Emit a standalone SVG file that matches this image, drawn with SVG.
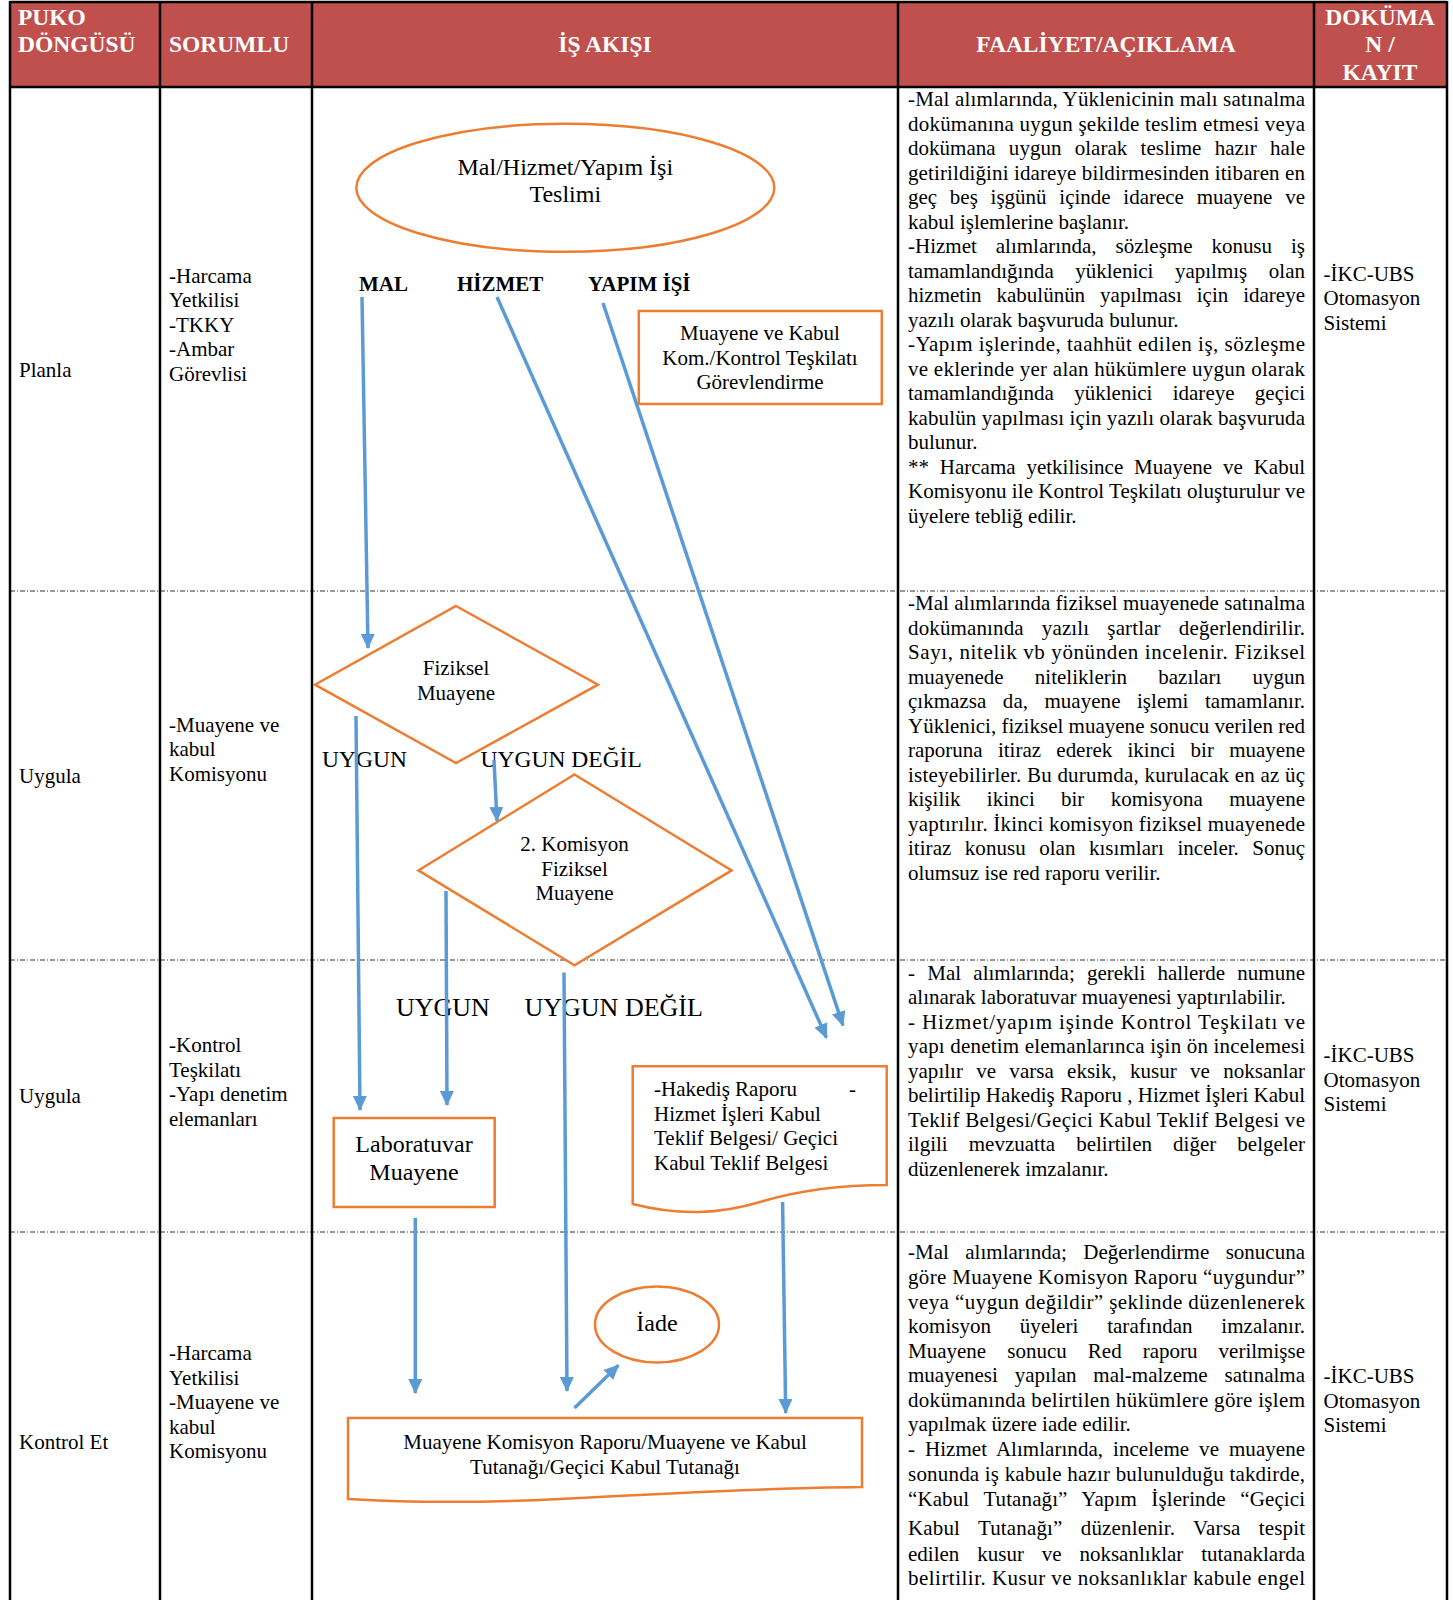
<svg xmlns="http://www.w3.org/2000/svg" width="1453" height="1600" viewBox="0 0 1453 1600">
<defs>
<marker id="arr" viewBox="0 0 15 14" refX="14" refY="7" markerWidth="15" markerHeight="14" orient="auto" markerUnits="userSpaceOnUse">
<path d="M0,0 L15,7 L0,14 Z" fill="#5B9BD5"/>
</marker>
</defs>
<style>
text{font-family:"Liberation Serif","Times New Roman",serif;fill:#000}
.hdr{font-weight:bold;font-size:23.5px;fill:#fff}
.t{font-size:21px}
.b{font-size:24px}
.lb{font-weight:bold;font-size:21px}
.u1{font-size:23.5px}
.u2{font-size:26px}
.mid{text-anchor:middle}
.shape{fill:#fff;stroke:#ED7D31;stroke-width:2.5}
.conn line{stroke:#5B9BD5;stroke-width:3.5;marker-end:url(#arr)}
.grid{stroke:#000;stroke-width:2.5}
.sep{stroke:#333;stroke-width:1;stroke-dasharray:5 2 1 2}
</style>
<rect width="1453" height="1600" fill="#fff"/>
<g id="table">
<rect x="10" y="2" width="1437" height="85" fill="#C0504D"/>
<line class="sep" x1="10" y1="591" x2="1447" y2="591"/>
<line class="sep" x1="10" y1="960" x2="1447" y2="960"/>
<line class="sep" x1="10" y1="1232" x2="1447" y2="1232"/>
<line class="grid" x1="10" y1="2" x2="1447" y2="2"/>
<line class="grid" x1="10" y1="87" x2="1447" y2="87"/>
<line class="grid" x1="10" y1="1" x2="10" y2="1600"/>
<line class="grid" x1="160" y1="1" x2="160" y2="1600"/>
<line class="grid" x1="312" y1="1" x2="312" y2="1600"/>
<line class="grid" x1="898" y1="1" x2="898" y2="1600"/>
<line class="grid" x1="1314" y1="1" x2="1314" y2="1600"/>
<line class="grid" x1="1447" y1="1" x2="1447" y2="1600"/>
<text class="hdr" x="18" y="24.5">PUKO</text>
<text class="hdr" x="18" y="52">DÖNGÜSÜ</text>
<text class="hdr" x="169" y="52">SORUMLU</text>
<text class="hdr mid" x="605" y="52">İŞ AKIŞI</text>
<text class="hdr mid" x="1106" y="52">FAALİYET/AÇIKLAMA</text>
<text class="hdr mid" x="1380" y="24.5">DOKÜMA</text>
<text class="hdr mid" x="1380" y="52">N /</text>
<text class="hdr mid" x="1380" y="79.6">KAYIT</text>
</g>
<g id="col-puko">
<text class="t" x="19" y="376.5">Planla</text>
<text class="t" x="19" y="782.6">Uygula</text>
<text class="t" x="19" y="1103">Uygula</text>
<text class="t" x="19" y="1449">Kontrol Et</text>
</g>
<g id="col-sorumlu">
<text class="t" x="169" y="282.6">-Harcama</text>
<text class="t" x="169" y="307">Yetkilisi</text>
<text class="t" x="169" y="331.6">-TKKY</text>
<text class="t" x="169" y="356">-Ambar</text>
<text class="t" x="169" y="380.6">Görevlisi</text>
<text class="t" x="169" y="731.6">-Muayene ve</text>
<text class="t" x="169" y="756">kabul</text>
<text class="t" x="169" y="780.6">Komisyonu</text>
<text class="t" x="169" y="1052">-Kontrol</text>
<text class="t" x="169" y="1076.5">Teşkilatı</text>
<text class="t" x="169" y="1101">-Yapı denetim</text>
<text class="t" x="169" y="1125.5">elemanları</text>
<text class="t" x="169" y="1360">-Harcama</text>
<text class="t" x="169" y="1384.5">Yetkilisi</text>
<text class="t" x="169" y="1409">-Muayene ve</text>
<text class="t" x="169" y="1433.5">kabul</text>
<text class="t" x="169" y="1458">Komisyonu</text>
</g>
<g id="col-faaliyet">
<text class="t" x="908" y="106.1" textLength="397" lengthAdjust="spacing">-Mal alımlarında, Yüklenicinin malı satınalma</text>
<text class="t" x="908" y="130.6" textLength="397" lengthAdjust="spacing">dokümanına uygun şekilde teslim etmesi veya</text>
<text class="t" x="908" y="155.1" textLength="397" lengthAdjust="spacing" style="word-spacing:8px">dokümana uygun olarak teslime hazır hale</text>
<text class="t" x="908" y="179.6" textLength="397" lengthAdjust="spacing">getirildiğini idareye bildirmesinden itibaren en</text>
<text class="t" x="908" y="204.1" textLength="397" lengthAdjust="spacing" style="word-spacing:7.5px">geç beş işgünü içinde idarece muayene ve</text>
<text class="t" x="908" y="228.6">kabul işlemlerine başlanır.</text>
<text class="t" x="908" y="253.1" textLength="397" lengthAdjust="spacing" style="word-spacing:13.7px">-Hizmet alımlarında, sözleşme konusu iş</text>
<text class="t" x="908" y="277.6" textLength="397" lengthAdjust="spacing" style="word-spacing:16.3px">tamamlandığında yüklenici yapılmış olan</text>
<text class="t" x="908" y="302.1" textLength="397" lengthAdjust="spacing" style="word-spacing:9.7px">hizmetin kabulünün yapılması için idareye</text>
<text class="t" x="908" y="326.6">yazılı olarak başvuruda bulunur.</text>
<text class="t" x="908" y="351.1" textLength="397" lengthAdjust="spacing">-Yapım işlerinde, taahhüt edilen iş, sözleşme</text>
<text class="t" x="908" y="375.6" textLength="397" lengthAdjust="spacing">ve eklerinde yer alan hükümlere uygun olarak</text>
<text class="t" x="908" y="400.1" textLength="397" lengthAdjust="spacing" style="word-spacing:15px">tamamlandığında yüklenici idareye geçici</text>
<text class="t" x="908" y="424.6" textLength="397" lengthAdjust="spacing">kabulün yapılması için yazılı olarak başvuruda</text>
<text class="t" x="908" y="449.1">bulunur.</text>
<text class="t" x="908" y="473.6" textLength="397" lengthAdjust="spacing" style="word-spacing:5.6px">** Harcama yetkilisince Muayene ve Kabul</text>
<text class="t" x="908" y="498.1" textLength="397" lengthAdjust="spacing">Komisyonu ile Kontrol Teşkilatı oluşturulur ve</text>
<text class="t" x="908" y="522.6">üyelere tebliğ edilir.</text>

<text class="t" x="908" y="610.2" textLength="397" lengthAdjust="spacing">-Mal alımlarında fiziksel muayenede satınalma</text>
<text class="t" x="908" y="634.7" textLength="397" lengthAdjust="spacing" style="word-spacing:12.7px">dokümanında yazılı şartlar değerlendirilir.</text>
<text class="t" x="908" y="659.2" textLength="397" lengthAdjust="spacing">Sayı, nitelik vb yönünden incelenir. Fiziksel</text>
<text class="t" x="908" y="683.7" textLength="397" lengthAdjust="spacing" style="word-spacing:26px">muayenede niteliklerin bazıları uygun</text>
<text class="t" x="908" y="708.2" textLength="397" lengthAdjust="spacing" style="word-spacing:11.2px">çıkmazsa da, muayene işlemi tamamlanır.</text>
<text class="t" x="908" y="732.7" textLength="397" lengthAdjust="spacing">Yüklenici, fiziksel muayene sonucu verilen red</text>
<text class="t" x="908" y="757.2" textLength="397" lengthAdjust="spacing" style="word-spacing:10px">raporuna itiraz ederek ikinci bir muayene</text>
<text class="t" x="908" y="781.7" textLength="397" lengthAdjust="spacing">isteyebilirler. Bu durumda, kurulacak en az üç</text>
<text class="t" x="908" y="806.2" textLength="397" lengthAdjust="spacing" style="word-spacing:21px">kişilik ikinci bir komisyona muayene</text>
<text class="t" x="908" y="830.7" textLength="397" lengthAdjust="spacing">yaptırılır. İkinci komisyon fiziksel muayenede</text>
<text class="t" x="908" y="855.2" textLength="397" lengthAdjust="spacing" style="word-spacing:8.2px">itiraz konusu olan kısımları inceler. Sonuç</text>
<text class="t" x="908" y="879.7">olumsuz ise red raporu verilir.</text>

<text class="t" x="908" y="979.6" textLength="397" lengthAdjust="spacing" style="word-spacing:7px">- Mal alımlarında; gerekli hallerde numune</text>
<text class="t" x="908" y="1004.1">alınarak laboratuvar muayenesi yaptırılabilir.</text>
<text class="t" x="908" y="1028.6" textLength="397" lengthAdjust="spacing">- Hizmet/yapım işinde Kontrol Teşkilatı ve</text>
<text class="t" x="908" y="1053.1" textLength="397" lengthAdjust="spacing">yapı denetim elemanlarınca işin ön incelemesi</text>
<text class="t" x="908" y="1077.6" textLength="397" lengthAdjust="spacing" style="word-spacing:8px">yapılır ve varsa eksik, kusur ve noksanlar</text>
<text class="t" x="908" y="1102.1" textLength="397" lengthAdjust="spacing">belirtilip Hakediş Raporu , Hizmet İşleri Kabul</text>
<text class="t" x="908" y="1126.6" textLength="397" lengthAdjust="spacing">Teklif Belgesi/Geçici Kabul Teklif Belgesi ve</text>
<text class="t" x="908" y="1151.1" textLength="397" lengthAdjust="spacing" style="word-spacing:15.8px">ilgili mevzuatta belirtilen diğer belgeler</text>
<text class="t" x="908" y="1175.6">düzenlenerek imzalanır.</text>

<text class="t" x="908" y="1259.3" textLength="397" lengthAdjust="spacing" style="word-spacing:11.2px">-Mal alımlarında; Değerlendirme sonucuna</text>
<text class="t" x="908" y="1284.2" textLength="397" lengthAdjust="spacing">göre Muayene Komisyon Raporu “uygundur”</text>
<text class="t" x="908" y="1308.7" textLength="397" lengthAdjust="spacing">veya “uygun değildir” şeklinde düzenlenerek</text>
<text class="t" x="908" y="1333.2" textLength="397" lengthAdjust="spacing" style="word-spacing:23.5px">komisyon üyeleri tarafından imzalanır.</text>
<text class="t" x="908" y="1357.7" textLength="397" lengthAdjust="spacing" style="word-spacing:15.8px">Muayene sonucu Red raporu verilmişse</text>
<text class="t" x="908" y="1382.2" textLength="397" lengthAdjust="spacing" style="word-spacing:11.6px">muayenesi yapılan mal-malzeme satınalma</text>
<text class="t" x="908" y="1406.7" textLength="397" lengthAdjust="spacing">dokümanında belirtilen hükümlere göre işlem</text>
<text class="t" x="908" y="1431.2">yapılmak üzere iade edilir.</text>
<text class="t" x="908" y="1455.7" textLength="397" lengthAdjust="spacing" style="word-spacing:4.7px">- Hizmet Alımlarında, inceleme ve muayene</text>
<text class="t" x="908" y="1481.2" textLength="397" lengthAdjust="spacing">sonunda iş kabule hazır bulunulduğu takdirde,</text>
<text class="t" x="908" y="1505.7" textLength="397" lengthAdjust="spacing" style="word-spacing:9.2px">“Kabul Tutanağı” Yapım İşlerinde “Geçici</text>
<text class="t" x="908" y="1535.4" textLength="397" lengthAdjust="spacing" style="word-spacing:13px">Kabul Tutanağı” düzenlenir. Varsa tespit</text>
<text class="t" x="908" y="1560.9" textLength="397" lengthAdjust="spacing" style="word-spacing:12.6px">edilen kusur ve noksanlıklar tutanaklarda</text>
<text class="t" x="908" y="1585.4" textLength="397" lengthAdjust="spacing">belirtilir. Kusur ve noksanlıklar kabule engel</text>
</g>
<g id="col-dokuman">
<text class="t" x="1323.5" y="280.6">-İKC-UBS</text>
<text class="t" x="1323.5" y="305.1">Otomasyon</text>
<text class="t" x="1323.5" y="329.6">Sistemi</text>
<text class="t" x="1323.5" y="1062">-İKC-UBS</text>
<text class="t" x="1323.5" y="1086.5">Otomasyon</text>
<text class="t" x="1323.5" y="1111">Sistemi</text>
<text class="t" x="1323.5" y="1383">-İKC-UBS</text>
<text class="t" x="1323.5" y="1407.5">Otomasyon</text>
<text class="t" x="1323.5" y="1432">Sistemi</text>
</g>
<g id="node-teslim">
<ellipse class="shape" cx="565.3" cy="187.8" rx="209" ry="64"/>
<text class="b mid" x="565.3" y="174.5">Mal/Hizmet/Yapım İşi</text>
<text class="b mid" x="565.3" y="202">Teslimi</text>
</g>
<g id="labels-type">
<text class="lb" x="359" y="291">MAL</text>
<text class="lb" x="457" y="291">HİZMET</text>
<text class="lb" x="588" y="291">YAPIM İŞİ</text>
</g>
<g id="node-gorevlendirme">
<rect class="shape" x="638.8" y="311" width="243" height="93"/>
<text class="t mid" x="760" y="340">Muayene ve Kabul</text>
<text class="t mid" x="760" y="364.5">Kom./Kontrol Teşkilatı</text>
<text class="t mid" x="760" y="389">Görevlendirme</text>
</g>
<g id="node-fiziksel">
<polygon class="shape" points="456,606 598,684.7 456,763 315,684.7"/>
<text class="t mid" x="456" y="674.5">Fiziksel</text>
<text class="t mid" x="456" y="699.5">Muayene</text>
</g>
<g id="node-komisyon2">
<polygon class="shape" points="574.5,774.5 731.6,870.4 574.5,965.3 418.4,870.4"/>
<text class="t mid" x="574.5" y="851">2. Komisyon</text>
<text class="t mid" x="574.5" y="875.5">Fiziksel</text>
<text class="t mid" x="574.5" y="900">Muayene</text>
</g>
<g id="labels-decision">
<text class="u1" x="322" y="767">UYGUN</text>
<text class="u1" x="480.6" y="767">UYGUN DEĞİL</text>
<text class="u2" x="396" y="1016">UYGUN</text>
<text class="u2" x="524.5" y="1016">UYGUN DEĞİL</text>
</g>
<g id="node-lab">
<rect class="shape" x="333.7" y="1118" width="161" height="89"/>
<text class="b mid" x="414" y="1152">Laboratuvar</text>
<text class="b mid" x="414" y="1179.6">Muayene</text>
</g>
<g id="node-hakedis">
<path class="shape" d="M632.7,1066.3 H886.7 V1185 C840,1185 800,1190 760,1202 C720,1214 680,1216 632.7,1204 Z"/>
<text class="t" x="654" y="1096">-Hakediş Raporu</text>
<text class="t" x="849" y="1096">-</text>
<text class="t" x="654" y="1120.5">Hizmet İşleri Kabul</text>
<text class="t" x="654" y="1145">Teklif Belgesi/ Geçici</text>
<text class="t" x="654" y="1169.5">Kabul Teklif Belgesi</text>
</g>
<g id="node-iade">
<ellipse class="shape" cx="657" cy="1324.5" rx="62" ry="38"/>
<text class="b mid" x="657" y="1331">İade</text>
</g>
<g id="node-tutanak">
<path class="shape" d="M348,1418 H862 V1487 C760,1488 650,1494 560,1499 C480,1503 400,1502 348,1499 Z"/>
<text class="t mid" x="605" y="1449">Muayene Komisyon Raporu/Muayene ve Kabul</text>
<text class="t mid" x="605" y="1473.5">Tutanağı/Geçici Kabul Tutanağı</text>
</g>
<g id="connectors" class="conn">
<line x1="362" y1="297" x2="368" y2="648"/>
<line x1="497" y1="297" x2="826.5" y2="1037.8"/>
<line x1="603" y1="303" x2="843" y2="1025.5"/>
<line x1="494" y1="760" x2="497" y2="821"/>
<line x1="356" y1="716" x2="360" y2="1110"/>
<line x1="446" y1="891" x2="447" y2="1105"/>
<line x1="564" y1="972.5" x2="567" y2="1391"/>
<line x1="415.3" y1="1218" x2="415.3" y2="1393"/>
<line x1="782.6" y1="1202" x2="785.7" y2="1413"/>
<line x1="574.5" y1="1408" x2="618.4" y2="1365.3"/>
</g>
</svg>
